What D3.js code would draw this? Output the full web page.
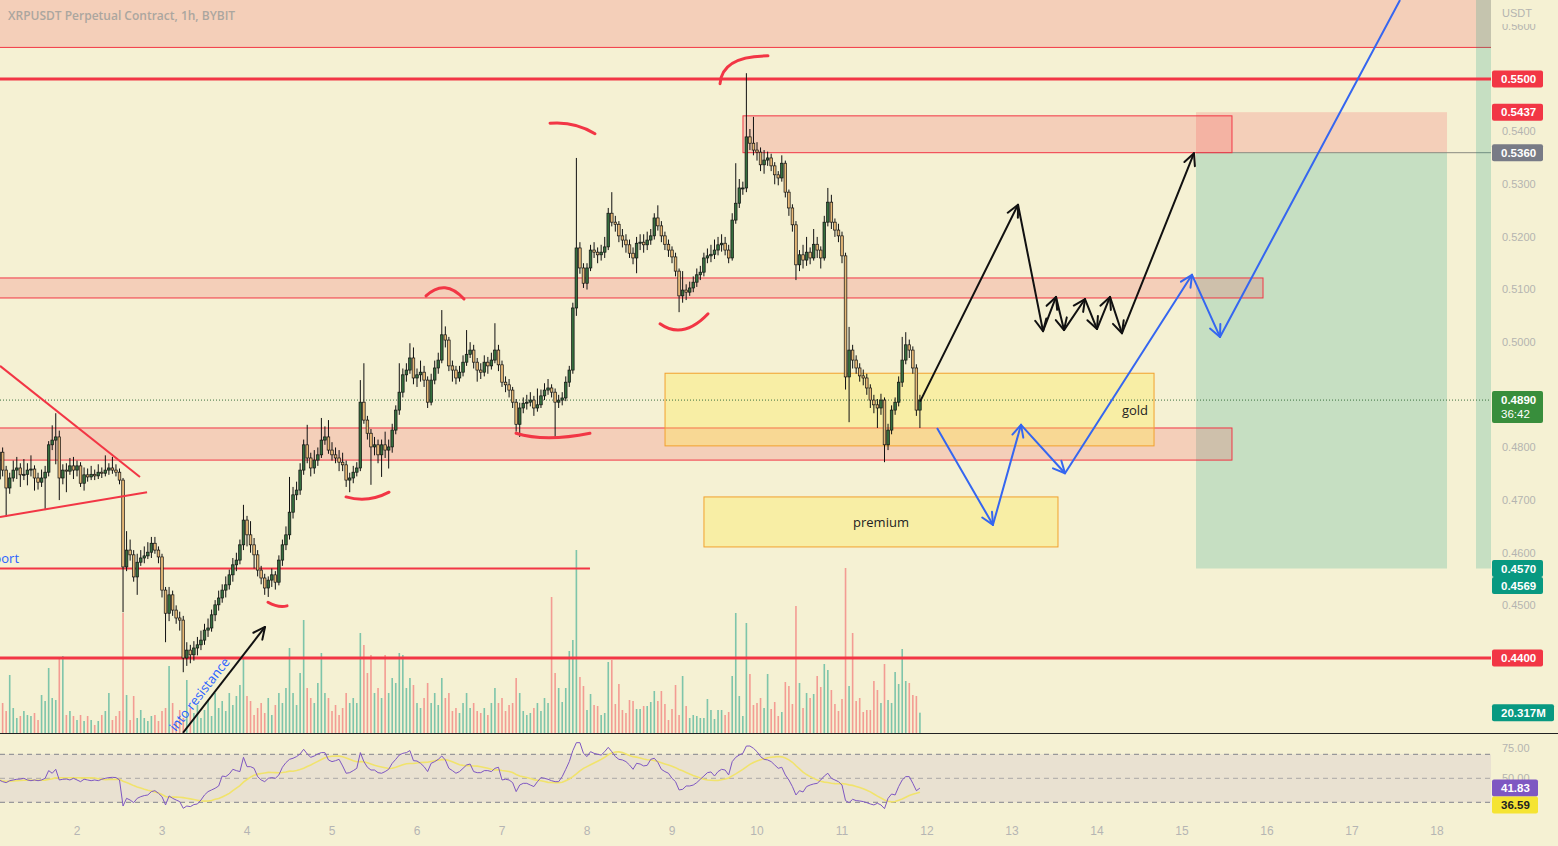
<!DOCTYPE html>
<html><head><meta charset="utf-8">
<script src="https://cdn.jsdelivr.net/npm/d3@7"></script>
<style>body{margin:0;background:#f5f1d3;}svg{display:block}</style>
</head><body>
<svg id="c" width="1558" height="846"></svg>
<script>
// ---------------- DATA ----------------
const title = "XRPUSDT Perpetual Contract, 1h, BYBIT";
const firstHour = 2;          // first candle: day 1, 02:00
const firstOpen = 0.4740;
const closes = [
0.4791,0.4757,0.4723,0.4742,0.4757,0.4761,0.4748,0.4749,0.4757,0.4759,
0.4742,0.4734,0.4742,0.4753,0.4805,0.4814,0.4820,0.4742,0.4757,0.4755,
0.4765,0.4757,0.4765,0.4732,0.4748,0.4744,0.4749,0.4746,0.4753,0.4751,
0.4757,0.4761,0.4757,0.4753,0.4738,0.4573,0.4605,0.4596,0.4554,0.4582,
0.4590,0.4594,0.4601,0.4618,0.4605,0.4592,0.4529,0.4485,0.4520,0.4491,
0.4476,0.4472,0.4400,0.4415,0.4406,0.4419,0.4425,0.4434,0.4453,0.4457,
0.4482,0.4501,0.4514,0.4529,0.4539,0.4558,0.4577,0.4586,0.4615,0.4662,
0.4634,0.4615,0.4596,0.4567,0.4552,0.4533,0.4548,0.4558,0.4544,0.4586,
0.4615,0.4634,0.4677,0.4710,0.4719,0.4757,0.4805,0.4780,0.4761,0.4776,
0.4786,0.4814,0.4820,0.4795,0.4786,0.4780,0.4772,0.4767,0.4738,0.4742,
0.4753,0.4761,0.4886,0.4852,0.4827,0.4801,0.4805,0.4786,0.4805,0.4795,
0.4801,0.4833,0.4871,0.4905,0.4938,0.4947,0.4970,0.4932,0.4938,0.4943,
0.4928,0.4886,0.4928,0.4951,0.4966,0.5014,0.5004,0.4955,0.4947,0.4932,
0.4943,0.4962,0.4977,0.4985,0.4962,0.4947,0.4943,0.4962,0.4955,0.4966,
0.4985,0.4957,0.4924,0.4919,0.4909,0.4886,0.4844,0.4875,0.4884,0.4886,
0.4890,0.4875,0.4881,0.4898,0.4909,0.4913,0.4905,0.4886,0.4890,0.4894,
0.4924,0.4947,0.5065,0.5179,0.5141,0.5112,0.5141,0.5175,0.5171,0.5166,
0.5171,0.5181,0.5245,0.5228,0.5224,0.5202,0.5194,0.5185,0.5169,0.5160,
0.5188,0.5190,0.5185,0.5194,0.5202,0.5236,0.5221,0.5202,0.5186,0.5175,
0.5162,0.5135,0.5088,0.5099,0.5095,0.5103,0.5114,0.5128,0.5133,0.5160,
0.5164,0.5167,0.5175,0.5185,0.5188,0.5175,0.5160,0.5232,0.5264,0.5293,
0.5293,0.5390,0.5378,0.5365,0.5361,0.5337,0.5346,0.5350,0.5335,0.5318,
0.5312,0.5340,0.5285,0.5255,0.5223,0.5147,0.5166,0.5156,0.5171,0.5160,
0.5186,0.5175,0.5160,0.5228,0.5266,0.5228,0.5213,0.5202,0.5164,0.4934,
0.4985,0.4966,0.4951,0.4936,0.4932,0.4913,0.4890,0.4881,0.4875,0.4890,
0.4805,0.4833,0.4871,0.4886,0.4924,0.4966,0.4995,0.4985,0.4951,0.4871,0.4890];
const highs = [
0.4818,0.4800,0.4765,0.4752,0.4775,0.4782,0.4770,0.4778,0.4770,0.4785,
0.4766,0.4752,0.4758,0.4765,0.4812,0.4842,0.4865,0.4832,0.4768,0.4770,
0.4780,0.4782,0.4775,0.4772,0.4762,0.4760,0.4765,0.4758,0.4768,0.4762,
0.4785,0.4770,0.4782,0.4768,0.4760,0.4742,0.4641,0.4625,0.4605,0.4598,
0.4605,0.4612,0.4620,0.4630,0.4630,0.4612,0.4598,0.4535,0.4535,0.4528,
0.4500,0.4488,0.4480,0.4430,0.4425,0.4432,0.4440,0.4452,0.4465,0.4475,
0.4492,0.4510,0.4528,0.4540,0.4555,0.4568,0.4590,0.4600,0.4625,0.4691,
0.4670,0.4660,0.4628,0.4605,0.4575,0.4560,0.4555,0.4570,0.4565,0.4595,
0.4625,0.4650,0.4744,0.4725,0.4735,0.4770,0.4815,0.4843,0.4790,0.4795,
0.4800,0.4856,0.4840,0.4852,0.4810,0.4800,0.4795,0.4790,0.4775,0.4752,
0.4765,0.4772,0.4928,0.4960,0.4860,0.4835,0.4820,0.4815,0.4815,0.4830,
0.4815,0.4845,0.4880,0.4960,0.4950,0.4960,0.4998,0.4990,0.4950,0.4965,
0.4955,0.4935,0.4940,0.4965,0.4980,0.5061,0.5030,0.5010,0.4965,0.4955,
0.4955,0.4975,0.5023,0.5000,0.4995,0.4970,0.4960,0.4975,0.4972,0.4980,
0.5036,0.4995,0.4965,0.4935,0.4930,0.4915,0.4892,0.4885,0.4895,0.4900,
0.4905,0.4898,0.4912,0.4910,0.4922,0.4930,0.4920,0.4912,0.4900,0.4905,
0.4935,0.4955,0.5075,0.5350,0.5190,0.5150,0.5150,0.5185,0.5190,0.5180,
0.5185,0.5200,0.5255,0.5285,0.5240,0.5230,0.5215,0.5205,0.5195,0.5180,
0.5200,0.5205,0.5205,0.5210,0.5215,0.5245,0.5260,0.5230,0.5210,0.5195,
0.5182,0.5170,0.5140,0.5135,0.5110,0.5115,0.5125,0.5140,0.5145,0.5170,
0.5178,0.5185,0.5195,0.5200,0.5205,0.5200,0.5185,0.5245,0.5340,0.5310,
0.5305,0.5511,0.5405,0.5428,0.5380,0.5370,0.5365,0.5362,0.5358,0.5342,
0.5325,0.5355,0.5345,0.5290,0.5262,0.5230,0.5175,0.5185,0.5200,0.5180,
0.5215,0.5200,0.5182,0.5240,0.5293,0.5280,0.5235,0.5225,0.5210,0.5170,
0.5029,0.4995,0.4975,0.4960,0.4948,0.4940,0.4920,0.4900,0.4892,0.4902,
0.4895,0.4845,0.4880,0.4895,0.4935,0.5010,0.5019,0.5005,0.4992,0.4958,0.4900];
const lows = [
0.4733,0.4745,0.4668,0.4712,0.4735,0.4740,0.4725,0.4738,0.4728,0.4745,
0.4718,0.4720,0.4725,0.4681,0.4745,0.4795,0.4768,0.4700,0.4730,0.4715,
0.4748,0.4740,0.4745,0.4725,0.4718,0.4735,0.4738,0.4738,0.4740,0.4742,
0.4745,0.4748,0.4750,0.4745,0.4730,0.4487,0.4565,0.4585,0.4545,0.4520,
0.4575,0.4580,0.4588,0.4590,0.4598,0.4580,0.4515,0.4430,0.4470,0.4480,
0.4465,0.4452,0.4373,0.4385,0.4390,0.4395,0.4405,0.4415,0.4425,0.4440,
0.4450,0.4470,0.4490,0.4505,0.4515,0.4530,0.4545,0.4565,0.4578,0.4605,
0.4612,0.4600,0.4570,0.4555,0.4540,0.4520,0.4516,0.4535,0.4530,0.4538,
0.4575,0.4605,0.4625,0.4665,0.4700,0.4710,0.4748,0.4770,0.4745,0.4750,
0.4765,0.4780,0.4805,0.4788,0.4775,0.4770,0.4755,0.4755,0.4725,0.4715,
0.4732,0.4745,0.4755,0.4845,0.4815,0.4729,0.4785,0.4770,0.4744,0.4780,
0.4760,0.4790,0.4825,0.4862,0.4895,0.4925,0.4940,0.4920,0.4915,0.4925,
0.4915,0.4875,0.4880,0.4920,0.4940,0.4960,0.4990,0.4945,0.4925,0.4920,
0.4925,0.4935,0.4955,0.4970,0.4950,0.4925,0.4930,0.4935,0.4940,0.4948,
0.4960,0.4945,0.4915,0.4905,0.4895,0.4875,0.4830,0.4820,0.4865,0.4872,
0.4878,0.4860,0.4868,0.4875,0.4890,0.4900,0.4895,0.4818,0.4875,0.4880,
0.4888,0.4915,0.4940,0.5050,0.5130,0.5103,0.5100,0.5135,0.5160,0.5150,
0.5155,0.5160,0.5175,0.5220,0.5210,0.5190,0.5180,0.5170,0.5160,0.5148,
0.5131,0.5175,0.5170,0.5175,0.5185,0.5195,0.5212,0.5190,0.5175,0.5162,
0.5150,0.5125,0.5057,0.5075,0.5080,0.5088,0.5095,0.5105,0.5118,0.5125,
0.5150,0.5152,0.5158,0.5165,0.5172,0.5165,0.5150,0.5155,0.5225,0.5255,
0.5280,0.5285,0.5365,0.5355,0.5345,0.5325,0.5320,0.5335,0.5325,0.5300,
0.5298,0.5305,0.5275,0.5240,0.5210,0.5118,0.5135,0.5140,0.5145,0.5148,
0.5155,0.5160,0.5140,0.5155,0.5220,0.5215,0.5200,0.5190,0.5150,0.4910,
0.4848,0.4950,0.4940,0.4925,0.4918,0.4900,0.4875,0.4865,0.4837,0.4862,
0.4772,0.4795,0.4825,0.4862,0.4878,0.4915,0.4958,0.4970,0.4940,0.4860,0.4837];
// volume in millions
const volumes = [
25,30,22,58,25,15,17,22,18,17,
20,13,38,32,65,35,33,75,77,18,
22,17,13,18,12,17,13,8,12,18,
22,40,13,17,22,120,38,13,37,15,
23,15,12,17,18,12,22,25,67,30,
12,23,15,53,25,20,28,15,23,32,
17,40,25,32,22,40,28,37,48,75,
37,32,18,25,30,20,35,18,28,40,
30,45,85,40,28,60,113,45,35,30,
50,80,40,35,22,28,18,25,40,30,
35,30,100,88,60,78,40,45,35,78,
40,55,50,80,78,45,55,48,30,25,
35,50,30,40,28,55,35,40,22,25,
20,30,40,25,30,22,20,25,18,30,
45,30,35,22,28,30,55,40,22,18,
20,25,30,22,35,30,136,60,45,31,
45,82,93,183,56,47,23,39,28,27,
18,20,71,73,29,49,23,20,33,32,
24,24,27,27,31,42,32,42,29,13,
24,48,18,57,27,15,18,17,15,15,
34,23,14,23,23,18,21,57,120,37,
17,110,59,28,30,35,25,59,24,31,
17,21,51,47,29,127,50,25,40,35,
39,57,46,69,63,43,29,22,34,165,
47,100,32,35,21,23,23,52,43,30,
69,33,30,61,49,84,52,50,38,37,20.317];
const rsi = [
48.6,47.2,46.4,48.0,48.6,49.2,49.4,50.0,48.6,48.0,
48.6,48.0,48.6,50.0,56.4,54.2,57.5,48.6,49.2,49.4,
48.6,50.0,48.6,47.2,49.2,48.6,48.0,48.6,48.0,49.2,
50.0,50.6,50.8,50.6,48.6,26.9,33.3,31.9,29.7,33.3,
34.7,35.6,36.1,38.9,39.7,37.5,34.7,27.8,35.3,33.3,
31.9,30.6,25.0,26.9,26.4,28.1,28.6,31.9,36.1,38.9,
40.3,41.7,43.6,51.9,51.4,53.6,57.5,56.4,55.6,67.5,
59.7,59.7,58.3,51.4,48.6,47.2,50.0,50.6,50.0,52.8,
59.2,63.1,65.8,66.7,68.1,70.3,74.2,70.3,67.5,68.6,
70.3,71.4,71.4,65.3,63.9,64.7,65.8,60.3,54.2,54.7,
56.4,58.3,71.4,63.9,59.2,56.9,56.9,54.7,54.2,55.6,
57.5,62.5,65.8,69.4,70.8,71.4,73.1,64.7,64.4,62.5,
59.7,55.6,62.5,63.9,65.8,68.6,65.3,58.3,56.4,54.2,
55.6,58.3,61.1,61.9,55.6,54.7,54.7,56.4,56.4,55.6,
58.3,59.2,48.6,49.2,48.6,46.4,38.9,44.4,45.8,45.8,
44.4,43.1,47.2,50.6,50.0,49.2,48.0,47.2,47.2,51.4,
57.5,63.9,73.1,79.7,79.7,70.8,68.1,72.2,70.8,70.0,
69.4,72.2,75.8,72.2,68.1,65.8,65.3,63.9,61.1,57.5,
62.5,61.9,60.3,60.8,65.8,66.7,63.3,57.5,55.6,54.2,
50.0,47.2,40.3,40.8,43.6,43.6,44.4,46.4,49.2,51.9,
54.7,55.3,51.9,55.6,57.5,56.9,52.8,63.9,67.5,69.4,
70.8,76.9,76.9,75.0,72.2,68.1,65.8,65.3,63.9,61.1,
58.3,59.2,52.8,48.6,43.1,36.1,39.7,38.6,43.1,44.4,
45.3,45.8,48.6,51.9,54.2,50.0,48.6,47.2,44.4,31.4,
29.7,32.5,31.4,31.1,30.6,29.7,28.6,27.8,29.2,27.8,
24.7,33.3,36.9,36.1,43.1,48.6,51.4,51.4,45.8,39.7,41.83];
const rsiMaLen = 14;
const dayTicks = [2,3,4,5,6,7,8,9,10,11,12,13,14,15,16,17,18];
const priceTicks = [0.56,0.54,0.53,0.52,0.51,0.50,0.48,0.47,0.46,0.45];
const rsiTicks = [75,50];
const rsiBand = [30,70];
const rsiLevels = [70,50,30];
const lastPrice = 0.4890, countdown = "36:42";
const lastRsiMa = 36.59;

// drawings, in (day, price)
const hLines = [{p:0.5500,w:3},{p:0.4400,w:3}];
const supportLine = {d0:1.0,d1:8.035,p:0.4570};
const topZone = {d0:1.0,d1:18.64,p0:0.5700,p1:0.5560};
const zones = [
  {d0:9.835,d1:15.588,p0:0.5430,p1:0.5360},
  {d0:1.0,d1:15.953,p0:0.5122,p1:0.5084},
  {d0:1.0,d1:15.588,p0:0.4837,p1:0.4776}];
const boxes = [
  {d0:8.918,d1:14.671,p0:0.4941,p1:0.4803,label:"gold",ld:14.447,lp:0.4871},
  {d0:9.376,d1:13.541,p0:0.4706,p1:0.4611,label:"premium",ld:11.459,lp:0.4658}];
const position = {d0:15.165,d1:18.118,stop:0.5437,entry:0.5360,target:0.4570};
const strip = {d0:18.459,d1:18.64,p0:0.5700,p1:0.4570};
const triangle = [
  [[1.094,0.4955],[2.741,0.4744]],
  [[1.094,0.4668],[2.824,0.4715]]];
const arcs = [
  [[9.565,0.5491],[9.588,0.5544],[10.129,0.5544]],
  [[7.565,0.5416],[7.859,0.5420],[8.094,0.5396]],
  [[6.106,0.5088],[6.329,0.5122],[6.553,0.5082]],
  [[8.859,0.5035],[9.129,0.5004],[9.424,0.5054]],
  [[7.165,0.4827],[7.506,0.4810],[8.035,0.4827]],
  [[5.165,0.4706],[5.424,0.4694],[5.671,0.4715]],
  [[4.247,0.4506],[4.365,0.4495],[4.471,0.4499]]];
const blackPath = [[11.918,0.4887],[13.071,0.5261],[13.365,0.5021],[13.518,0.5086],[13.612,0.5023],
  [13.859,0.5082],[14.0,0.5025],[14.153,0.5086],[14.294,0.5017],[15.141,0.5359]];
const bluePath = [[12.118,0.4837],[12.776,0.4653],[13.106,0.4843],[13.624,0.4751],[15.118,0.5128],
  [15.447,0.5010],[17.565,0.5650]];
const resistArrow = [[3.247,0.4258],[4.212,0.4459]];
const notes = [
  {text:"into resistance",d:3.441,p:0.4331,rot:-52,anchor:"middle"},
  {text:"support",d:1.318,p:0.4590,rot:0,anchor:"end"}];

// ---------------- CHART ----------------
const W=1558,H=846,plotR=1491,paneB=733;
const BG="#f5f1d3";
const RED="#f23645", TEAL="#089981";
const x = d3.scaleLinear().domain([2,18]).range([77,1437]);
const y = d3.scaleLinear().domain([0.44,0.55]).range([658,79]);
const yV = d3.scaleLinear().domain([0,183]).range([733,550]);
const yR = d3.scaleLinear().domain([30,70]).range([802.3,754.3]);
const dayOf = k => 1 + (firstHour + k)/24;
const opens = closes.map((c,i)=> i===0 ? firstOpen : closes[i-1]);

const svg = d3.select("#c");
svg.append("rect").attr("width",W).attr("height",H).attr("fill",BG);
const defs = svg.append("defs");
defs.append("clipPath").attr("id","cp").append("rect").attr("x",0).attr("y",0).attr("width",plotR).attr("height",paneB);
defs.append("clipPath").attr("id","cr").append("rect").attr("x",0).attr("y",paneB+1).attr("width",plotR).attr("height",90);
const P = svg.append("g").attr("clip-path","url(#cp)");
const R = svg.append("g").attr("clip-path","url(#cr)");

const zf = "rgba(242,54,69,0.18)";
function rectD(g,o,fill){
  return g.append("rect").attr("x",x(o.d0)).attr("width",x(o.d1)-x(o.d0))
    .attr("y",y(o.p0)).attr("height",y(o.p1)-y(o.p0)).attr("fill",fill);
}
// top zone
rectD(P,topZone,zf);
P.append("line").attr("x1",x(topZone.d0)).attr("x2",x(topZone.d1)).attr("y1",y(topZone.p1)).attr("y2",y(topZone.p1))
  .attr("stroke",RED).attr("stroke-width",1);
// position tool
rectD(P,{d0:position.d0,d1:position.d1,p0:position.stop,p1:position.entry},zf);
rectD(P,{d0:position.d0,d1:position.d1,p0:position.entry,p1:position.target},"rgba(8,153,129,0.2)");
P.append("line").attr("x1",x(position.d0)).attr("x2",plotR).attr("y1",y(position.entry)).attr("y2",y(position.entry))
  .attr("stroke","#8a8a80").attr("stroke-width",1);
rectD(P,strip,"rgba(8,153,129,0.2)");
// zones
zones.forEach(z=>rectD(P,z,zf).attr("stroke",RED).attr("stroke-width",1));
boxes.forEach(b=>{
  rectD(P,b,"rgba(255,232,80,0.35)").attr("stroke","#f2a12e").attr("stroke-width",1);
});

// volume
P.selectAll(".vol").data(volumes).enter().append("rect")
  .attr("x",(v,i)=>x(dayOf(i))-0.8).attr("width",1.6)
  .attr("y",v=>yV(v)).attr("height",v=>yV(0)-yV(v))
  .attr("fill",(v,i)=> closes[i]>=opens[i] ? "rgba(8,153,129,0.5)" : "rgba(242,54,69,0.45)");

// horizontal lines
hLines.forEach(h=>P.append("line").attr("x1",0).attr("x2",plotR).attr("y1",y(h.p)).attr("y2",y(h.p))
  .attr("stroke",RED).attr("stroke-width",h.w));
P.append("line").attr("x1",x(supportLine.d0)).attr("x2",x(supportLine.d1)).attr("y1",y(supportLine.p)).attr("y2",y(supportLine.p))
  .attr("stroke",RED).attr("stroke-width",2);
// current price dotted line
P.append("line").attr("x1",0).attr("x2",plotR).attr("y1",y(lastPrice)).attr("y2",y(lastPrice))
  .attr("stroke","#3a6e3e").attr("stroke-width",1).attr("stroke-dasharray","1,2");

// candles
const cg = P.append("g");
closes.forEach((c,i)=>{
  const o=opens[i], cx=x(dayOf(i)), up=c>=o;
  cg.append("line").attr("x1",cx).attr("x2",cx).attr("y1",y(highs[i])).attr("y2",y(lows[i]))
    .attr("stroke","#111").attr("stroke-width",1);
  const top=y(Math.max(o,c)), bot=y(Math.min(o,c));
  cg.append("rect").attr("x",cx-1.3).attr("width",2.6).attr("y",top).attr("height",Math.max(1,bot-top))
    .attr("fill",up?"#356e3e":"#e6b877").attr("stroke","#111").attr("stroke-width",0.7);
});

// boxes labels
boxes.forEach(b=>P.append("text").attr("x",x(b.ld)).attr("y",y(b.lp)).attr("dy","0.35em")
  .attr("text-anchor","middle").attr("font-family","'Open Sans',sans-serif").attr("font-size",13)
  .attr("fill","#222").text(b.label));

// triangle lines
triangle.forEach(t=>P.append("line").attr("x1",x(t[0][0])).attr("y1",y(t[0][1])).attr("x2",x(t[1][0])).attr("y2",y(t[1][1]))
  .attr("stroke",RED).attr("stroke-width",2));
// arcs
arcs.forEach(a=>{
  const p=d3.path(); p.moveTo(x(a[0][0]),y(a[0][1])); p.quadraticCurveTo(x(a[1][0]),y(a[1][1]),x(a[2][0]),y(a[2][1]));
  P.append("path").attr("d",p.toString()).attr("fill","none").attr("stroke",RED).attr("stroke-width",3).attr("stroke-linecap","round");
});
// arrows
function head(g,ax,ay,bx,by,color){
  const ang=Math.atan2(by-ay,bx-ax), L=13, a=0.45;
  [-1,1].forEach(s=>g.append("line").attr("x1",bx).attr("y1",by)
    .attr("x2",bx-L*Math.cos(ang+s*a)).attr("y2",by-L*Math.sin(ang+s*a))
    .attr("stroke",color).attr("stroke-width",2).attr("stroke-linecap","round"));
}
function arrowPath(pts,color,lastHead){
  const px=pts.map(p=>[x(p[0]),y(p[1])]);
  P.append("path").attr("d",d3.line()(px)).attr("fill","none").attr("stroke",color).attr("stroke-width",2).attr("stroke-linejoin","round");
  for(let i=1;i<px.length;i++){ if(i===px.length-1 && !lastHead) break; head(P,px[i-1][0],px[i-1][1],px[i][0],px[i][1],color); }
}
arrowPath(blackPath,"#111",true);
arrowPath(bluePath,"#3566f0",false);
arrowPath(resistArrow,"#111",true);
notes.forEach(n=>P.append("text").attr("transform",`translate(${x(n.d)},${y(n.p)}) rotate(${n.rot})`)
  .attr("text-anchor",n.anchor).attr("dy","0.35em").attr("font-family","'Open Sans',sans-serif").attr("font-size",13)
  .attr("fill","#2962ff").text(n.text));

// title
svg.append("text").attr("x",8).attr("y",20).attr("font-family","'Open Sans',sans-serif").attr("font-size",12)
  .attr("font-weight",600).attr("fill","#aba69f").text(title);

// separator
svg.append("line").attr("x1",0).attr("x2",W).attr("y1",paneB+0.5).attr("y2",paneB+0.5).attr("stroke","#222").attr("stroke-width",1);

// RSI pane
R.append("rect").attr("x",0).attr("width",plotR).attr("y",yR(rsiBand[1])).attr("height",yR(rsiBand[0])-yR(rsiBand[1]))
  .attr("fill","rgba(126,87,194,0.1)");
rsiLevels.forEach(l=>R.append("line").attr("x1",0).attr("x2",plotR).attr("y1",yR(l)).attr("y2",yR(l))
  .attr("stroke","#787b86").attr("stroke-width",1).attr("stroke-dasharray","5,4").attr("opacity",l===50?0.55:0.9));
const rsiMa = rsi.map((v,i)=>d3.mean(rsi.slice(Math.max(0,i-rsiMaLen+1),i+1)));
R.append("path").attr("d",d3.line().x((v,i)=>x(dayOf(i))).y(v=>yR(v))(rsiMa)).attr("fill","none")
  .attr("stroke","#f1e36c").attr("stroke-width",1.6);
R.append("path").attr("d",d3.line().x((v,i)=>x(dayOf(i))).y(v=>yR(v))(rsi)).attr("fill","none")
  .attr("stroke","#7e57c2").attr("stroke-width",1);

// axes text
const AF="'Liberation Sans',Arial,sans-serif";
svg.selectAll(".dt").data(dayTicks).enter().append("text").attr("x",d=>x(d)).attr("y",835)
  .attr("text-anchor","middle").attr("font-family",AF).attr("font-size",12).attr("fill","#b5b5b3").text(d=>d);
svg.selectAll(".pt").data(priceTicks).enter().append("text").attr("x",1502).attr("y",d=>y(d)).attr("dy","0.35em")
  .attr("font-family",AF).attr("font-size",11).attr("fill","#b4b4b0").text(d=>d.toFixed(4));
svg.append("rect").attr("x",plotR+1).attr("y",0).attr("width",W-plotR).attr("height",24).attr("fill",BG);
svg.append("text").attr("x",1502).attr("y",13).attr("dy","0.35em").attr("font-family",AF).attr("font-size",11)
  .attr("fill","#b4b4b0").text("USDT");
svg.selectAll(".rt").data(rsiTicks).enter().append("text").attr("x",1502).attr("y",d=>yR(d)).attr("dy","0.35em")
  .attr("font-family",AF).attr("font-size",11).attr("fill","#b4b4b0").text(d=>d.toFixed(2));

function label(cy,text,bg,fg,w){
  svg.append("rect").attr("x",plotR+1).attr("y",cy-8.5).attr("width",w||51).attr("height",17).attr("rx",2).attr("fill",bg);
  svg.append("text").attr("x",1501).attr("y",cy).attr("dy","0.36em").attr("font-family",AF).attr("font-size",11.5)
    .attr("font-weight","bold").attr("fill",fg).text(text);
}
label(y(0.5500),"0.5500",RED,"#fff");
label(y(position.stop),position.stop.toFixed(4),RED,"#fff");
label(y(position.entry),position.entry.toFixed(4),"#787b86","#fff");
label(y(position.target),position.target.toFixed(4),TEAL,"#fff");
label(y(position.target)+17,(0.4569).toFixed(4),TEAL,"#fff");
label(y(0.4400),"0.4400",RED,"#fff");
label(yV(volumes[volumes.length-1]),volumes[volumes.length-1].toFixed(3)+"M",TEAL,"#fff",62);
// last price block
svg.append("rect").attr("x",plotR+1).attr("y",y(lastPrice)-9).attr("width",51).attr("height",32).attr("rx",2).attr("fill","#388e3c");
svg.append("text").attr("x",1501).attr("y",y(lastPrice)).attr("dy","0.36em").attr("font-family",AF).attr("font-size",11.5)
  .attr("font-weight","bold").attr("fill","#fff").text(lastPrice.toFixed(4));
svg.append("text").attr("x",1501).attr("y",y(lastPrice)+14).attr("dy","0.36em").attr("font-family",AF).attr("font-size",11.5)
  .attr("fill","#fff").text(countdown);
label(yR(rsi[rsi.length-1]),rsi[rsi.length-1].toFixed(2),"#7e57c2","#fff",46);
label(yR(rsi[rsi.length-1])+17,lastRsiMa.toFixed(2),"#f5e431","#222",46);
</script>
</body></html>
